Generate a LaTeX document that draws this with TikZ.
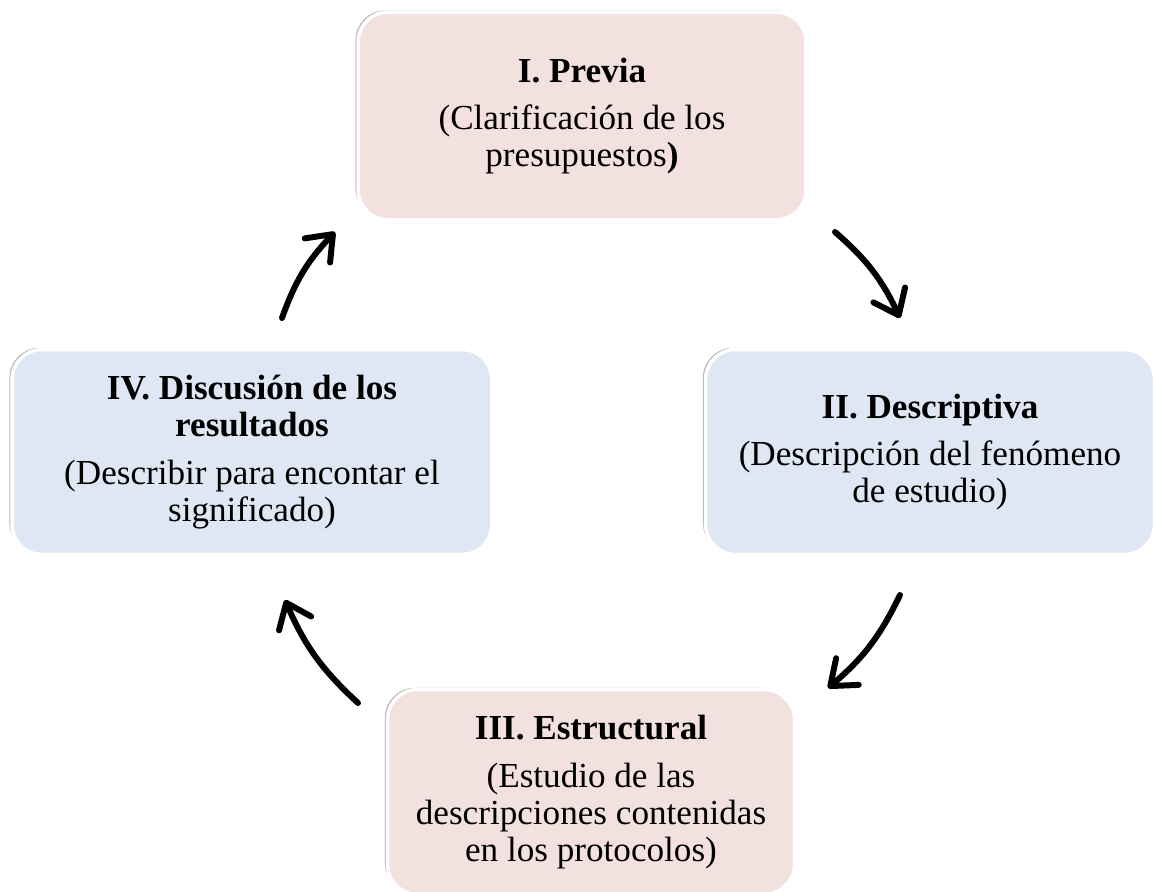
\documentclass[tikz,border=0pt]{standalone}
\usepackage{fontspec}
\setmainfont{Liberation Serif}
\usetikzlibrary{arrows.meta, shadows}

\definecolor{boxpink}{HTML}{F2E1DF}
\definecolor{boxblue}{HTML}{DEE7F3}

\begin{document}
\begin{tikzpicture}[
    x=0.02cm, y=-0.02cm,
    phase/.style={draw=white, line width=2pt, rounded corners=0.6cm, align=center,
        font=\fontsize{20}{21}\selectfont,
        drop shadow={shadow xshift=-1.5pt, shadow yshift=1pt, fill=black!55, opacity=0.5}},
    cycle/.style={line width=3.4pt, line cap=round, line join=round,
        -{Straight Barb[length=4.5mm, width=7mm, line cap=round, line join=round]}, bend left=12}
]
    \useasboundingbox (0,0) rectangle (1154,892);

    % Phases
    \node[phase, fill=boxpink, minimum width=8.96cm, minimum height=4.16cm] (previa) at (582,116)
        {\textbf{I. Previa}\\[6pt](Clarificación de los\\presupuestos\textbf{)}};
    \node[phase, fill=boxblue, minimum width=8.98cm, minimum height=4.1cm] (descriptiva) at (930,452)
        {\textbf{II. Descriptiva}\\[6pt](Descripción del fenómeno\\de estudio)};
    \node[phase, fill=boxpink, minimum width=8.14cm, minimum height=4.1cm] (estructural) at (591,792)
        {\textbf{III. Estructural}\\[6pt](Estudio de las\\descripciones contenidas\\en los protocolos)};
    \node[phase, fill=boxblue, minimum width=9.6cm, minimum height=4.1cm] (discusion) at (252,452)
        {\textbf{IV. Discusión de los}\\\textbf{resultados}\\[6pt](Describir para encontar el\\significado)};

    % Arrow ends
    \coordinate (c1s) at (835,232);
    \coordinate (c1e) at (900,318);
    \coordinate (c2s) at (900,595);
    \coordinate (c2e) at (828,688);
    \coordinate (c3s) at (358,703);
    \coordinate (c3e) at (285,600);
    \coordinate (c4s) at (282,318);
    \coordinate (c4e) at (335,232);

    % Cycle
    \draw[cycle] (c1s) to (c1e);
    \draw[cycle] (c2s) to (c2e);
    \draw[cycle] (c3s) to (c3e);
    \draw[cycle] (c4s) to (c4e);

\end{tikzpicture}
\end{document}
